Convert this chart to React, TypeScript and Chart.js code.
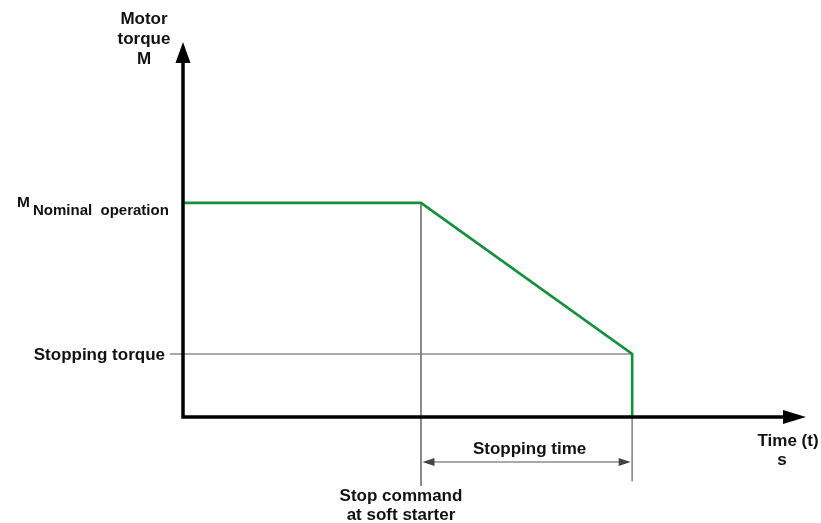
import { useEffect, useRef } from "react";
import { Chart, registerables } from "chart.js";

Chart.register(...registerables);

// Torque profile (arbitrary units: time 0..100, torque 0..100)
const torqueTimes = [0, 38.2, 72.1, 72.1];
const torqueValues = [57.1, 57.1, 16.8, 0];

// Guide lines
const stopCommandGuideTimes = [38.2, 38.2];
const stopCommandGuideValues = [57.1, -18.4];
const stopEndGuideTimes = [72.1, 72.1];
const stopEndGuideValues = [16.8, -17.1];
const stoppingTorqueGuideTimes = [-2.1, 72.1];
const stoppingTorqueGuideValues = [16.8, 16.8];

// Stopping time dimension arrow
const stoppingTimeSpan = [38.2, 72.1];
const stoppingTimeArrowLevel = -12;

const axisMax = 100;

// Texts
const yAxisTitle = ["Motor", "torque", "M"];
const xAxisTitle = ["Time (t)", "s"];
const nominalLabelMain = "M";
const nominalLabelSub = "Nominal  operation";
const stoppingTorqueLabel = "Stopping torque";
const stoppingTimeLabel = "Stopping time";
const stopCommandLabel = ["Stop command", "at soft starter"];

const FONT = "'Liberation Sans', Arial, Helvetica, sans-serif";

const toPoints = (xs: number[], ys: number[]) => xs.map((x, i) => ({ x, y: ys[i] }));

const annotationPlugin = {
  id: "diagramAnnotations",
  afterDatasetsDraw(chart: any) {
    const { ctx, scales } = chart;
    const xs = scales.x;
    const ys = scales.y;
    const px = (v: number) => xs.getPixelForValue(v);
    const py = (v: number) => ys.getPixelForValue(v);
    const x0 = px(0);
    const y0 = py(0);
    const xEnd = px(axisMax);
    const yTop = py(axisMax);

    ctx.save();
    // Axes
    ctx.strokeStyle = "#000";
    ctx.fillStyle = "#000";
    ctx.lineWidth = 3.5;
    ctx.lineJoin = "miter";
    ctx.beginPath();
    ctx.moveTo(x0, yTop + 18);
    ctx.lineTo(x0, y0);
    ctx.lineTo(xEnd - 18, y0);
    ctx.stroke();
    // Arrowheads
    ctx.beginPath();
    ctx.moveTo(x0, yTop);
    ctx.lineTo(x0 - 7.5, yTop + 21);
    ctx.lineTo(x0 + 7.5, yTop + 21);
    ctx.closePath();
    ctx.fill();
    ctx.beginPath();
    ctx.moveTo(xEnd, y0);
    ctx.lineTo(xEnd - 23, y0 - 7);
    ctx.lineTo(xEnd - 23, y0 + 7);
    ctx.closePath();
    ctx.fill();

    // Stopping time dimension arrow
    const ax1 = px(stoppingTimeSpan[0]) + 1.5;
    const ax2 = px(stoppingTimeSpan[1]) - 1.5;
    const ay = py(stoppingTimeArrowLevel);
    ctx.strokeStyle = "#555";
    ctx.fillStyle = "#444";
    ctx.lineWidth = 1.2;
    ctx.beginPath();
    ctx.moveTo(ax1 + 8, ay);
    ctx.lineTo(ax2 - 8, ay);
    ctx.stroke();
    ctx.beginPath();
    ctx.moveTo(ax1, ay);
    ctx.lineTo(ax1 + 12, ay - 4);
    ctx.lineTo(ax1 + 12, ay + 4);
    ctx.closePath();
    ctx.fill();
    ctx.beginPath();
    ctx.moveTo(ax2, ay);
    ctx.lineTo(ax2 - 12, ay - 4);
    ctx.lineTo(ax2 - 12, ay + 4);
    ctx.closePath();
    ctx.fill();

    // Texts
    ctx.fillStyle = "#111";
    ctx.font = `bold 17px ${FONT}`;
    ctx.textBaseline = "alphabetic";

    ctx.textAlign = "center";
    yAxisTitle.forEach((t, i) => ctx.fillText(t, x0 - 39, yTop - 18 + i * 20));

    ctx.textAlign = "right";
    ctx.fillText(stoppingTorqueLabel, x0 - 18, py(stoppingTorqueGuideValues[0]) + 6);

    ctx.textAlign = "left";
    const ny = py(torqueValues[0]);
    ctx.font = `bold 15.5px ${FONT}`;
    ctx.fillText(nominalLabelMain, 17, ny + 4);
    ctx.font = `bold 15px ${FONT}`;
    ctx.fillText(nominalLabelSub, 33, ny + 12);

    ctx.font = `bold 17px ${FONT}`;
    ctx.textAlign = "center";
    ctx.fillText(stoppingTimeLabel, (px(stoppingTimeSpan[0]) + px(stoppingTimeSpan[1])) / 2 + 3, ay - 8);
    stopCommandLabel.forEach((t, i) => ctx.fillText(t, px(stoppingTimeSpan[0]) - 20, y0 + 84 + i * 19));
    ctx.fillText(xAxisTitle[0], xEnd - 18, y0 + 29);
    ctx.fillText(xAxisTitle[1], xEnd - 24, y0 + 48);

    ctx.restore();
  },
};

export default function App() {
  const canvasRef = useRef<HTMLCanvasElement | null>(null);

  useEffect(() => {
    if (!canvasRef.current) return;
    const chart = new Chart(canvasRef.current, {
      type: "scatter",
      data: {
        datasets: [
          {
            data: toPoints(torqueTimes, torqueValues),
            showLine: true,
            borderColor: "#13913a",
            borderWidth: 2.6,
            pointRadius: 0,
            fill: false,
            tension: 0,
            order: 0,
            clip: false as any,
          },
          {
            data: toPoints(stopCommandGuideTimes, stopCommandGuideValues),
            showLine: true,
            borderColor: "#7a7a7a",
            borderWidth: 1,
            pointRadius: 0,
            order: 1,
            clip: false as any,
          },
          {
            data: toPoints(stopEndGuideTimes, stopEndGuideValues),
            showLine: true,
            borderColor: "#8a8a8a",
            borderWidth: 1,
            pointRadius: 0,
            order: 1,
            clip: false as any,
          },
          {
            data: toPoints(stoppingTorqueGuideTimes, stoppingTorqueGuideValues),
            showLine: true,
            borderColor: "#555",
            borderWidth: 1,
            pointRadius: 0,
            order: 1,
            clip: false as any,
          },
        ],
      },
      options: {
        responsive: false,
        animation: false,
        layout: { padding: { left: 183, right: 15, top: 42, bottom: 106 } },
        plugins: { legend: { display: false }, tooltip: { enabled: false } },
        scales: {
          x: { type: "linear", min: 0, max: axisMax, display: false },
          y: { type: "linear", min: 0, max: axisMax, display: false },
        },
      },
      plugins: [annotationPlugin],
    });
    return () => chart.destroy();
  }, []);

  return (
    <div style={{ position: "absolute", left: 0, top: 0, width: 821, height: 523, background: "#fff" }}>
      <canvas ref={canvasRef} width={821} height={523} />
    </div>
  );
}
